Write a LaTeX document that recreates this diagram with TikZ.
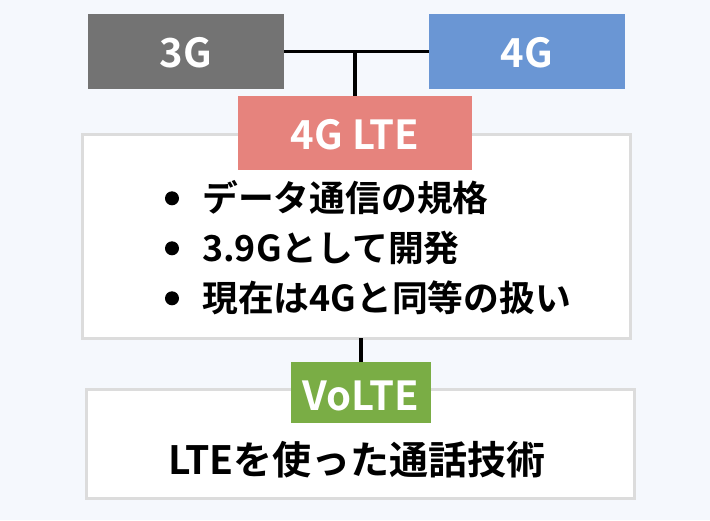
\documentclass[tikz,border=0pt]{standalone}
\usepackage{fontspec}
\setmainfont{Noto Sans CJK JP}[BoldFont={Noto Sans CJK JP Bold}]
\definecolor{bg}{HTML}{F5F8FD}
\definecolor{gray3g}{HTML}{737373}
\definecolor{blue4g}{HTML}{6A96D4}
\definecolor{redlte}{HTML}{E6837D}
\definecolor{greenvo}{HTML}{7AAD45}
\definecolor{boxline}{HTML}{DCDCDC}
\tikzset{
  tag/.style={rectangle, inner sep=0pt, outer sep=0pt, text=white,
    font=\bfseries\fontsize{40}{48}\selectfont},
  panel/.style={rectangle, draw=boxline, line width=3.3pt, fill=white, inner sep=0pt, outer sep=0pt},
  body/.style={inner sep=0pt, font=\bfseries\fontsize{35.8}{42}\selectfont},
  dot/.style={circle, fill=black, inner sep=0pt, minimum size=14pt},
  link/.style={line width=3.2pt, draw=black}
}
\begin{document}
\begin{tikzpicture}[x=1pt, y=-1pt]
\useasboundingbox[fill=bg] (0,0) rectangle (710,520);
% top tags
\node[tag, fill=gray3g, minimum width=196pt, minimum height=75pt] (g3) at (186,51.8) {};
\node[tag, anchor=base] (g3t) at (186,67.5) {3G};
\node[tag, fill=blue4g, minimum width=196pt, minimum height=75pt] (g4) at (527,51.8) {};
\node[tag, anchor=base] (g4t) at (527,67.5) {4G};
\coordinate (junc) at (355,51.8);
\draw[link] (g3.east) -- (g4.west);
% info panel
\node[panel, minimum width=547.6pt, minimum height=203.6pt] (info) at (356.5,236.5) {};
\node[tag, fill=redlte, minimum width=234pt, minimum height=74pt] (lte) at (355,133) {};
\node[tag, anchor=base] (ltet) at (355,149) {4G LTE};
\draw[link] (junc) -- (lte.north);
% bullets
\node[dot] (b1) at (172,198.3) {};
\node[dot] (b2) at (172,248.3) {};
\node[dot] (b3) at (172,298.3) {};
\node[body, anchor=base west] (l1) at (202,211.5) {データ通信の規格};
\node[body, anchor=base west] (l2) at (202,261.5) {3.9Gとして開発};
\node[body, anchor=base west] (l3) at (202,311.5) {現在は4Gと同等の扱い};
% volte panel
\node[panel, minimum width=547.6pt, minimum height=108.6pt] (call) at (360.5,444) {};
\node[tag, fill=greenvo, minimum width=140pt, minimum height=61pt] (volte) at (361,392.5) {};
\node[tag, anchor=base] (voltet) at (361,410) {VoLTE};
\draw[link] (volte.north) -- (volte.north |- info.south);
\node[body, anchor=base, font=\bfseries\fontsize{39}{46}\selectfont] (callt) at (357,474) {LTEを使った通話技術};
\end{tikzpicture}
\end{document}
